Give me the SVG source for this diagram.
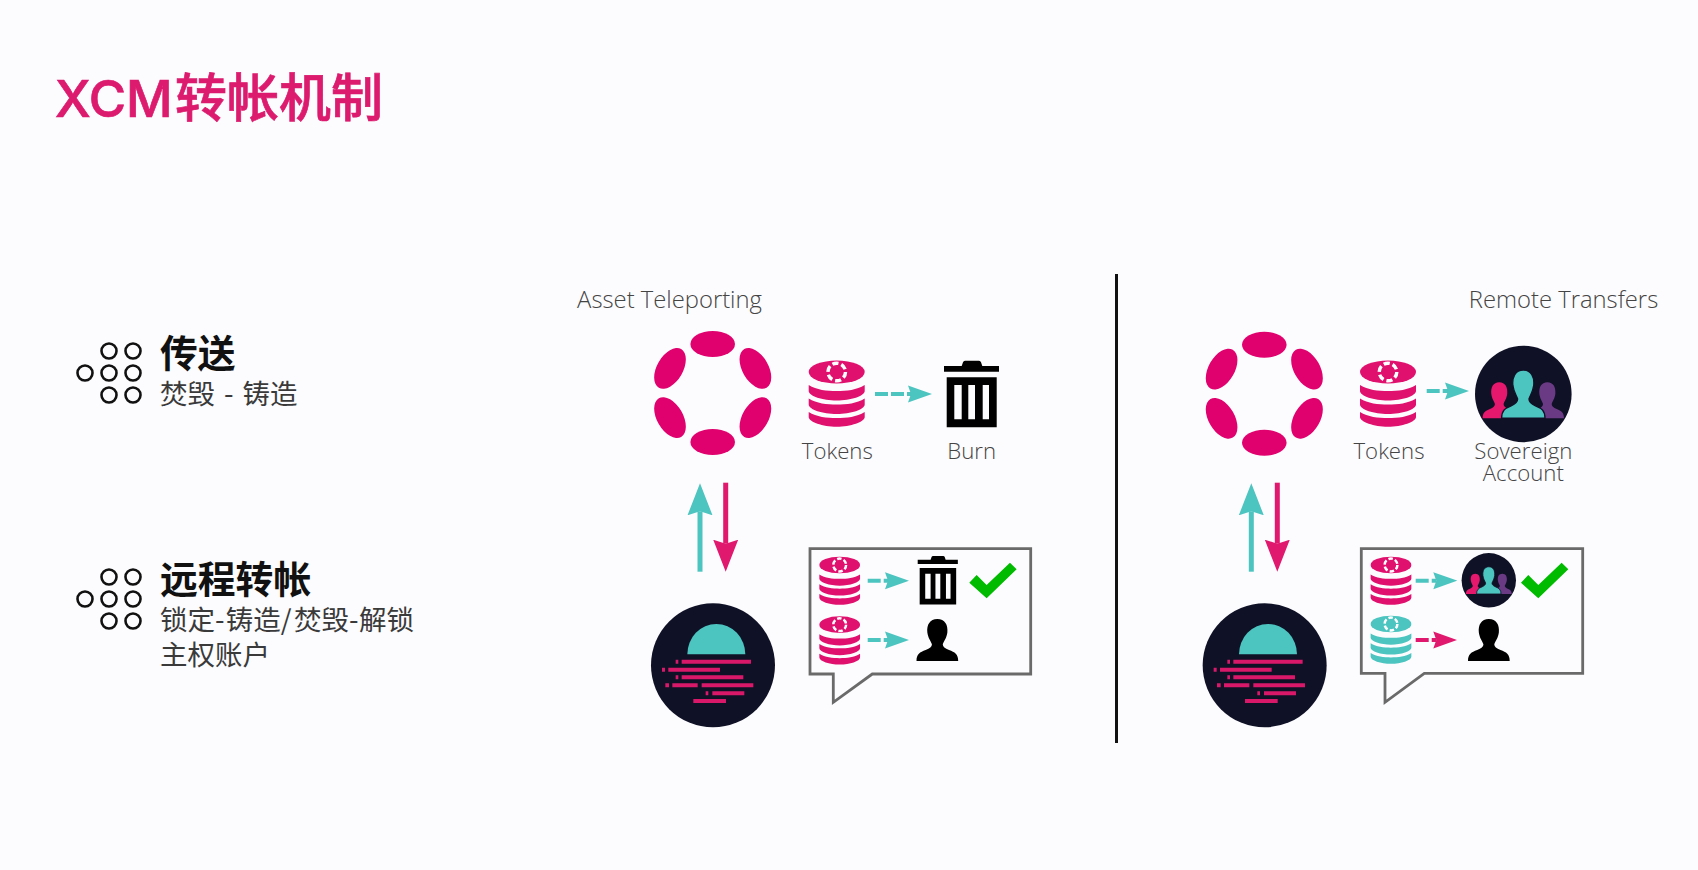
<svg xmlns="http://www.w3.org/2000/svg" width="1698" height="870" viewBox="0 0 1698 870">
<style>
.cjk{font-family:"Noto Sans CJK SC","Noto Sans",sans-serif}
.head{font-size:37.8px;font-weight:700;fill:#111}
.sub{font-size:27.5px;font-weight:400;fill:#3a3a3a}
.lbl{font-family:"Open Sans","Liberation Sans",sans-serif;font-size:22.2px;font-weight:300;fill:#444;text-anchor:middle}
.ttl{font-size:23.8px}
.dots circle{fill:none;stroke:#111;stroke-width:2.6}
.pink{fill:#e0106e}.teal{fill:#4cc4c0}
.ln{fill:none;stroke-width:4}
.dash{stroke-dasharray:13 3}
.vert{fill:none;stroke-width:5}
.t{stroke:#4cc4c0}.p{stroke:#e0186e}
.bubble{fill:none;stroke:#6a6a6a;stroke-width:2.8;stroke-linejoin:miter}
.moonline{stroke:#d9186a;stroke-width:12;fill:none}
</style>
<defs>
<marker id="hs-t" markerUnits="userSpaceOnUse" markerWidth="24" markerHeight="18" refX="3" refY="9" orient="auto"><path d="M0 .5L24 9L0 17.5L3 9Z" fill="#4cc4c0"/></marker>
<marker id="hs-p" markerUnits="userSpaceOnUse" markerWidth="24" markerHeight="18" refX="3" refY="9" orient="auto"><path d="M0 .5L24 9L0 17.5L3 9Z" fill="#e0186e"/></marker>
<marker id="hl-t" markerUnits="userSpaceOnUse" markerWidth="33" markerHeight="26" refX="4" refY="13" orient="auto"><path d="M0 .5L32 13L0 25.5L4 13Z" fill="#4cc4c0"/></marker>
<marker id="hl-p" markerUnits="userSpaceOnUse" markerWidth="33" markerHeight="26" refX="4" refY="13" orient="auto"><path d="M0 .5L32 13L0 25.5L4 13Z" fill="#e0186e"/></marker>
<g id="dots" class="dots"><circle cx="109" cy="351" r="7.5"/><circle cx="133" cy="351" r="7.5"/><circle cx="85" cy="373" r="7.5"/><circle cx="109" cy="373" r="7.5"/><circle cx="133" cy="373" r="7.5"/><circle cx="109" cy="395" r="7.5"/><circle cx="133" cy="395" r="7.5"/></g>
<g id="polka" fill="#e0006e"><ellipse cx="0" cy="-49" rx="22.3" ry="13"/><ellipse cx="0" cy="49" rx="22.3" ry="13"/><ellipse cx="-42.7" cy="-24.6" rx="22.3" ry="13" transform="rotate(-60 -42.7 -24.6)"/><ellipse cx="42.7" cy="-24.6" rx="22.3" ry="13" transform="rotate(60 42.7 -24.6)"/><ellipse cx="-42.7" cy="24.6" rx="22.3" ry="13" transform="rotate(60 -42.7 24.6)"/><ellipse cx="42.7" cy="24.6" rx="22.3" ry="13" transform="rotate(-60 42.7 24.6)"/></g>
<g id="token"><ellipse rx="28" ry="11.5"/><path d="M-28 13C-20 18-10 19 0 19C10 19 20 18 28 13L28 19C28 24 14 28.5 0 28.5C-14 28.5-28 24-28 19Z"/><path d="M-28 26.5C-20 31.5-10 32.5 0 32.5C10 32.5 20 31.5 28 26.5L28 32.5C28 37.5 14 42 0 42C-14 42-28 37.5-28 32.5Z"/><path d="M-28 40C-20 45-10 46 0 46C10 46 20 45 28 40L28 45C28 50 14 54.7 0 54.7C-14 54.7-28 50-28 45Z"/><circle r="8.8" fill="none" stroke="#fff" stroke-width="3.4" stroke-dasharray="6.2 3"/></g>
<g id="trash" fill="#000"><path d="M17.7 5.3L19 1.5Q19.5 0 21 0H35Q36.5 0 37 1.5L38.3 5.3H55V11H0V5.3Z"/><path fill-rule="evenodd" d="M2.7 16.6H52.7V66.6H2.7ZM10.3 24.3V58.6H17.7V24.3ZM24.3 24.3V58.6H31V24.3ZM38.7 24.3V58.6H45V24.3Z"/></g>
<path id="person" d="M50 0C68 0 76 14 74 32C72 46 66 52 63 60C63 66 68 70 78 74C92 79 100 84 100 100L0 100C0 84 8 79 22 74C32 70 37 66 37 60C34 52 28 46 26 32C24 14 32 0 50 0Z"/>
<g id="sovereign"><circle r="48.3" fill="#0f1126"/><use href="#person" fill="#e6186d" transform="translate(-40.7 -11.7) scale(.333 .36)"/><use href="#person" fill="#6b3a85" transform="translate(7.4 -11.7) scale(.333 .36)"/><use href="#person" fill="#4cc4c0" stroke="#0f1126" stroke-width="3" transform="translate(-21.7 -24) scale(.434 .483)"/></g>
<g id="moon"><circle cx="219" cy="586" r="186" fill="#0f1126"/><path d="M142 553A87 91 0 0 1 316 553Z" fill="#4cc4c0"/><path class="moonline" d="M107 575H115M125 575H333M66 599H75M85 599H240M107 622H115M125 622H310M76 646H87M97 646H173M185 646H340M197 670H205M217 670H313M160 693H258"/></g>
<path id="check" fill="#00bb00" d="M988 338L1010 315L1040 345L1110 278L1130 298L1040 385Z"/>
</defs>
<rect width="1698" height="870" fill="#fcfcfe"/>
<g id="title"><text class="cjk" x="55" y="117" font-size="52" font-weight="500" fill="#dc1a6e" stroke="#dc1a6e" stroke-width=".7"><tspan font-family="Inter" font-size="51" font-weight="500">XCM</tspan><tspan x="175">转帐机制</tspan></text></g>
<g id="item-teleport">
<use href="#dots"/>
<text class="cjk head" x="160" y="367">传送</text>
<text class="cjk sub" x="160" y="404" word-spacing="2.8">焚毁 - 铸造</text>
</g>
<g id="item-remote">
<use href="#dots" y="226"/>
<text class="cjk head" x="160" y="593">远程转帐</text>
<text class="cjk sub" x="160" y="630">锁定-<tspan x="225.7">铸造/</tspan><tspan x="294">焚毁-</tspan><tspan x="359">解锁</tspan></text>
<text class="cjk sub" x="160" y="665">主权账户</text>
</g>
<g id="divider"><line x1="1116.5" y1="274" x2="1116.5" y2="743" stroke="#111" stroke-width="3"/></g>
<g id="teleport-title"><text class="lbl ttl" x="669.5" y="308">Asset Teleporting</text></g>
<g id="relay-left"><use href="#polka" x="712.7" y="393"/></g>
<g id="tokens-left"><use href="#token" class="pink" x="836.7" y="372"/><text class="lbl" x="837.3" y="459">Tokens</text></g>
<g id="burn"><use href="#trash" transform="translate(944 360.7)"/><text class="lbl" x="971.7" y="459">Burn</text></g>
<g id="moon-left"><use href="#moon" transform="translate(640 470) scale(.3333)"/></g>
<g id="bubble-left">
<path class="bubble" d="M810 548.7H1030.7V674H872.3L833.3 702.3V674H810Z"/>
<use href="#token" class="pink" transform="translate(839.7 565) scale(.727)"/>
<use href="#trash" transform="translate(917.7 556) scale(.73)"/>
<use href="#check" transform="translate(640 470) scale(.3333)"/>
<use href="#token" class="pink" transform="translate(839.7 624.7) scale(.727)"/>
<use href="#person" fill="#000" transform="translate(916.5 619) scale(.417 .42)"/>
</g>
<g id="remote-title"><text class="lbl ttl" x="1563.5" y="308">Remote Transfers</text></g>
<g id="relay-right"><use href="#polka" x="1264.3" y="393.7"/></g>
<g id="tokens-right"><use href="#token" class="pink" x="1388" y="372"/><text class="lbl" x="1389" y="459">Tokens</text></g>
<g id="sovereign-account"><use href="#sovereign" x="1523.3" y="394"/><text class="lbl" x="1523.3" y="459">Sovereign</text><text class="lbl" x="1523.3" y="480.7">Account</text></g>
<g id="moon-right"><use href="#moon" transform="translate(1191.67 470) scale(.3333)"/></g>
<g id="bubble-right">
<path class="bubble" d="M1361.3 548.7H1582.7V673.3H1424.3L1385 702.3V673.3H1361.3Z"/>
<use href="#token" class="pink" transform="translate(1391 565) scale(.727)"/>
<use href="#sovereign" transform="translate(1488.8 580.3) scale(.563)"/>
<use href="#check" transform="translate(1191.67 470) scale(.3333)"/>
<use href="#token" class="teal" transform="translate(1391 624) scale(.727)"/>
<use href="#person" fill="#000" transform="translate(1468 619) scale(.417 .42)"/>
</g>
<g id="connectors">
<line class="ln dash t" x1="875" y1="394" x2="911" y2="394" marker-end="url(#hs-t)"/>
<line class="ln dash t" x1="1426.7" y1="391" x2="1448" y2="391" marker-end="url(#hs-t)"/>
<line class="ln dash t" x1="867.7" y1="580.7" x2="888" y2="580.7" marker-end="url(#hs-t)"/>
<line class="ln dash t" x1="867.7" y1="640" x2="888" y2="640" marker-end="url(#hs-t)"/>
<line class="ln dash t" x1="1415.7" y1="580.7" x2="1436.3" y2="580.7" marker-end="url(#hs-t)"/>
<line class="ln dash p" x1="1415.7" y1="640" x2="1436.3" y2="640" marker-end="url(#hs-p)"/>
<line class="vert t" x1="700" y1="571.7" x2="700" y2="511.3" marker-end="url(#hl-t)"/>
<line class="vert p" x1="725.7" y1="482.7" x2="725.7" y2="543.7" marker-end="url(#hl-p)"/>
<line class="vert t" x1="1251.3" y1="571.7" x2="1251.3" y2="511.3" marker-end="url(#hl-t)"/>
<line class="vert p" x1="1277.3" y1="482.7" x2="1277.3" y2="543.7" marker-end="url(#hl-p)"/>
</g>
</svg>
